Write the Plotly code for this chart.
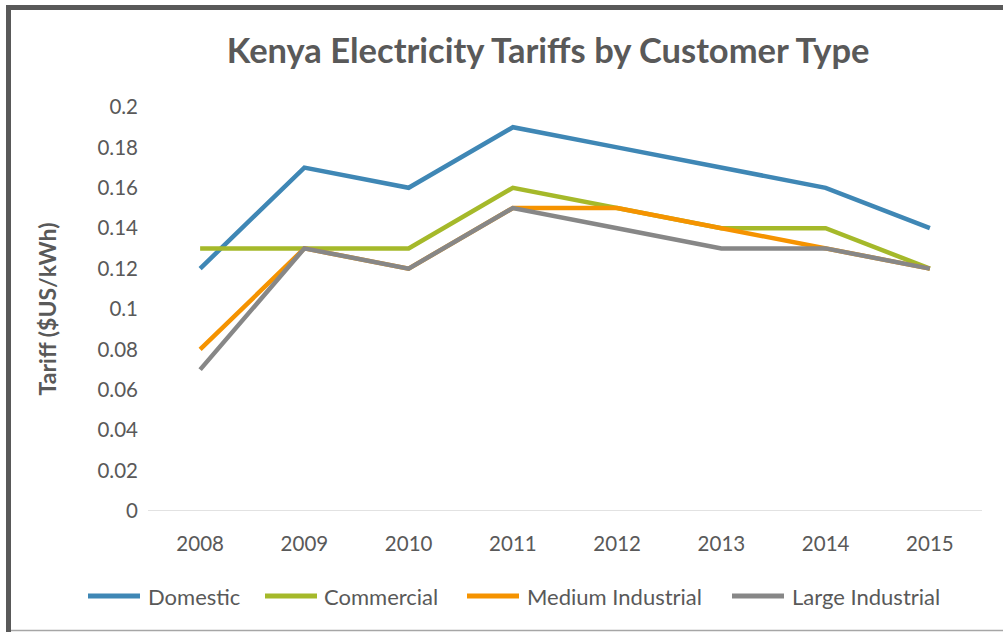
import plotly.graph_objects as go

years = ["2008", "2009", "2010", "2011", "2012", "2013", "2014", "2015"]
domestic = [0.12, 0.17, 0.16, 0.19, 0.18, 0.17, 0.16, 0.14]
commercial = [0.13, 0.13, 0.13, 0.16, 0.15, 0.14, 0.14, 0.12]
medium_industrial = [0.08, 0.13, 0.12, 0.15, 0.15, 0.14, 0.13, 0.12]
large_industrial = [0.07, 0.13, 0.12, 0.15, 0.14, 0.13, 0.13, 0.12]

series = [
    ("Domestic", domestic, "#3F87B5"),
    ("Commercial", commercial, "#A5B92A"),
    ("Medium Industrial", medium_industrial, "#F59300"),
    ("Large Industrial", large_industrial, "#878787"),
]

W, H = 1003, 632
L, R, T, B = 148, 21, 107, 121
plot_w = W - L - R
plot_h = H - T - B


def px_x(p):
    return (p - L) / plot_w


def px_y(p):
    return (H - B - p) / plot_h


fig = go.Figure()
for name, vals, color in series:
    fig.add_trace(go.Scatter(
        x=years, y=vals, name=name, mode="lines",
        line=dict(color=color, width=4.5),
    ))

font_family = "Lato, 'Open Sans', sans-serif"
text_color = "#595959"

fig.update_layout(
    width=W, height=H,
    margin=dict(l=L, r=R, t=T, b=B),
    paper_bgcolor="white", plot_bgcolor="white",
    font=dict(family=font_family, color=text_color, size=20),
    title=dict(
        text="<b>Kenya Electricity Tariffs by Customer Type</b>",
        x=0.5465, xanchor="center", y=1 - 51 / H, yanchor="middle",
        font=dict(size=34.5, color=text_color, family=font_family),
    ),
    showlegend=False,
    xaxis=dict(
        type="category", range=[-0.5, 7.5],
        showgrid=False, zeroline=False,
        showline=False, ticks="",
        tickfont=dict(size=20.5, color=text_color),
        ticklabelstandoff=18,
    ),
    yaxis=dict(
        range=[0, 0.2], dtick=0.02, tickformat="~g",
        showgrid=False, zeroline=False, showline=False,
        ticks="", tickfont=dict(size=20.5, color=text_color),
        ticklabelstandoff=9,
        title=dict(text="<b>Tariff ($US/kWh)</b>", font=dict(size=23, color=text_color), standoff=34),
    ),
)

# Horizontal baseline at zero
fig.add_shape(type="line", xref="paper", yref="y", x0=0, x1=1, y0=0, y1=0,
              line=dict(color="#D9D9D9", width=1.5), layer="below")

# Legend drawn below the axis: a thick swatch followed by the series name
legend_y = px_y(596)
legend_pos = [(88, 140, 146), (265, 317, 322), (467, 519, 525), (732, 784, 790)]
for (name, _, color), (lx0, lx1, tx) in zip(series, legend_pos):
    fig.add_shape(type="line", xref="paper", yref="paper",
                  x0=px_x(lx0), x1=px_x(lx1), y0=legend_y, y1=legend_y,
                  line=dict(color=color, width=5))
    fig.add_annotation(xref="paper", yref="paper", x=px_x(tx), y=legend_y,
                       xanchor="left", yanchor="middle", showarrow=False,
                       text=name, font=dict(size=22, color=text_color))

# Chart frame: thick dark left and top edges, thin bottom edge
fig.add_shape(type="line", xref="paper", yref="paper",
              x0=px_x(8.5), x1=px_x(8.5), y0=px_y(5), y1=px_y(632),
              line=dict(color="#595959", width=5))
fig.add_shape(type="line", xref="paper", yref="paper",
              x0=px_x(6), x1=px_x(1010), y0=px_y(7.5), y1=px_y(7.5),
              line=dict(color="#595959", width=5))
fig.add_shape(type="line", xref="paper", yref="paper",
              x0=px_x(11), x1=px_x(1010), y0=px_y(630.5), y1=px_y(630.5),
              line=dict(color="#A6A6A6", width=1.5))

fig.write_html("out.html")
